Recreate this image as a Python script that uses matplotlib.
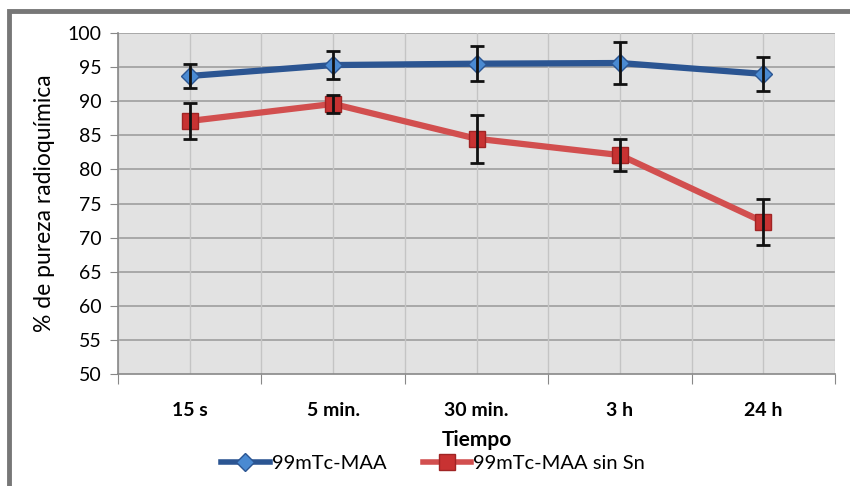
import matplotlib
matplotlib.use("Agg")
import matplotlib.pyplot as plt
import numpy as np
from matplotlib.lines import Line2D
from matplotlib.patches import Rectangle

categories = ["15 s", "5 min.", "30 min.", "3 h", "24 h"]
maa = [93.7, 95.3, 95.5, 95.6, 94.0]
maa_err = [1.8, 2.0, 2.6, 3.1, 2.5]
sinsn = [87.1, 89.6, 84.5, 82.1, 72.3]
sinsn_err = [2.6, 1.3, 3.5, 2.3, 3.4]
yticks = [50, 55, 60, 65, 70, 75, 80, 85, 90, 95, 100]

plt.rcParams['font.family'] = ['Lato', 'DejaVu Sans']

fig = plt.figure(figsize=(8.5, 4.86), dpi=100)
# outer border frame
fig.add_artist(Rectangle((9/850, -0.05), 2.0, 1 - 11.5/486 + 0.05, transform=fig.transFigure,
                         fill=False, edgecolor='#777777', linewidth=3.5))
ax = fig.add_axes([118/850, 1 - 374/486, (835 - 118)/850, (374 - 33)/486])
ax.set_facecolor('#e2e2e2')

x = np.arange(len(categories))
ax.set_xlim(-0.5, len(categories) - 0.5)
ax.set_ylim(50, 100)

# grid
for yv in yticks[1:]:
    ax.axhline(yv, color='#a3a3a3', lw=1.3, zorder=1)
for xv in np.arange(-0.5, len(categories), 0.5):
    ax.axvline(xv, color='#c4c4c4', lw=1.0, zorder=1)

ax.errorbar(x, maa, yerr=maa_err, fmt='none', ecolor='#111111', elinewidth=2,
            capsize=5, capthick=2, zorder=4)
ax.errorbar(x, sinsn, yerr=sinsn_err, fmt='none', ecolor='#111111', elinewidth=2,
            capsize=5, capthick=2, zorder=4)
ax.plot(x, maa, color='#2b5592', lw=4.5, marker='D', markersize=9,
        markerfacecolor='#4a8ad2', markeredgecolor='#2b5592', markeredgewidth=1, zorder=3)
ax.plot(x, sinsn, color='#d24f4f', lw=4.5, marker='s', markersize=11,
        markerfacecolor='#c83232', markeredgecolor='#a02424', markeredgewidth=1, zorder=3)

ax.set_yticks(yticks)
ax.set_yticklabels([str(v) for v in yticks], fontsize=14)
ax.set_xticks(np.arange(-0.5, len(categories), 1.0))
ax.set_xticklabels([])
ax.set_xticks(x, minor=True)
ax.set_xticklabels(categories, minor=True, fontsize=14, fontweight='bold')
ax.tick_params(axis='x', which='minor', length=0, pad=20)
ax.tick_params(axis='x', which='major', length=7, color='#888888', direction='out')
ax.tick_params(axis='y', length=6, color='#888888', direction='out', pad=6)

for s in ['top', 'right']:
    ax.spines[s].set_visible(False)
ax.spines['left'].set_color('#888888')
ax.spines['bottom'].set_color('#888888')
ax.spines['left'].set_linewidth(1.2)
ax.spines['bottom'].set_linewidth(1.2)

ax.set_ylabel('% de pureza radioquímica', fontsize=16.5, labelpad=9)
ax.set_xlabel('Tiempo', fontsize=15, fontweight='bold', labelpad=8)

handles = [
    Line2D([0], [0], color='#2b5592', lw=4, marker='D', markersize=9,
           markerfacecolor='#4a8ad2', markeredgecolor='#2b5592'),
    Line2D([0], [0], color='#d24f4f', lw=4, marker='s', markersize=11,
           markerfacecolor='#c83232', markeredgecolor='#a02424'),
]
fig.legend(handles, ['99mTc-MAA', '99mTc-MAA sin Sn'], loc='center',
           bbox_to_anchor=(433/850, 1 - 463/486), ncol=2, frameon=False,
           fontsize=14.5, handlelength=2.4, columnspacing=1.8, handletextpad=0.1)

fig.savefig('out.png', dpi=100)
